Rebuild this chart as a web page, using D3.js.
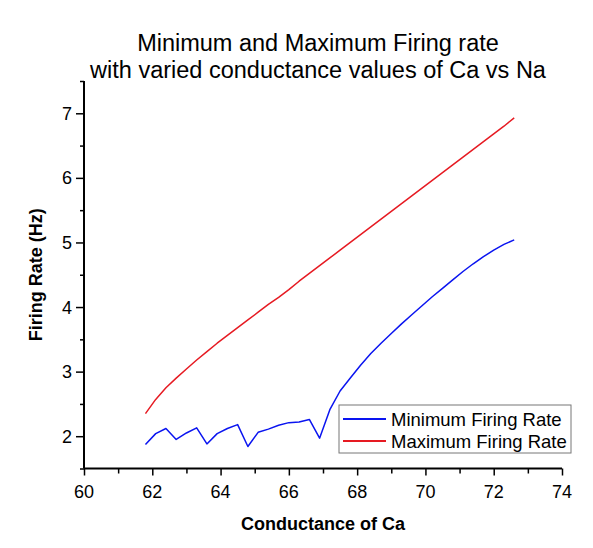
<!DOCTYPE html>
<html>
<head>
<meta charset="utf-8">
<script src="https://cdn.jsdelivr.net/npm/d3@7/dist/d3.min.js"></script>
<style>
  body { margin: 0; background: #fff; }
  svg { display: block; font-family: "Liberation Sans", Arial, sans-serif; }
</style>
</head>
<body>
<svg id="chart" width="593" height="548"></svg>
<script>
const conductance = [61.8, 62.1, 62.4, 62.7, 63.0, 63.3, 63.6, 63.9, 64.2, 64.5, 64.8, 65.1, 65.4, 65.7, 66.0, 66.3, 66.6, 66.9, 67.2, 67.5, 67.8, 68.1, 68.4, 68.7, 69.0, 69.3, 69.6, 69.9, 70.2, 70.5, 70.8, 71.1, 71.4, 71.7, 72.0, 72.3, 72.6];
const minRate = [1.87, 2.04, 2.12, 1.95, 2.05, 2.13, 1.88, 2.04, 2.12, 2.18, 1.84, 2.06, 2.11, 2.17, 2.21, 2.22, 2.26, 1.97, 2.41, 2.70, 2.90, 3.10, 3.28, 3.44, 3.59, 3.74, 3.88, 4.02, 4.16, 4.29, 4.42, 4.55, 4.67, 4.78, 4.88, 4.97, 5.04];
const maxRate = [2.35, 2.57, 2.75, 2.90, 3.04, 3.18, 3.31, 3.44, 3.56, 3.68, 3.80, 3.92, 4.04, 4.15, 4.27, 4.40, 4.52, 4.64, 4.76, 4.88, 5.00, 5.12, 5.24, 5.36, 5.48, 5.60, 5.72, 5.84, 5.96, 6.08, 6.20, 6.32, 6.44, 6.56, 6.68, 6.80, 6.93];
const xTicks = [60, 62, 64, 66, 68, 70, 72, 74];
const yTicks = [2, 3, 4, 5, 6, 7];
const titleLines = ["Minimum and Maximum Firing rate", "with varied conductance values of Ca vs Na"];
const seriesNames = ["Minimum Firing Rate", "Maximum Firing Rate"];
const seriesColors = ["#0a14f0", "#e61a22"];

const svg = d3.select("#chart");
const x = d3.scaleLinear().domain([60, 74]).range([84, 562]);
const y = d3.scaleLinear().domain([1.5, 7.5]).range([468.5, 81]);

// Title
svg.append("g").selectAll("text").data(titleLines).join("text")
  .attr("x", 318).attr("y", (d, i) => 51 + i * 27)
  .attr("text-anchor", "middle").attr("font-size", 23.5).attr("fill", "#000")
  .text(d => d);

// X axis
const xAxis = svg.append("g").attr("transform", `translate(0,${y(1.5)})`);
xAxis.call(d3.axisBottom(x).tickValues(d3.range(60, 74.01, 1)).tickSize(5).tickFormat(""))
  .call(g => g.select(".domain").attr("stroke-width", 2).attr("d", `M${x(60)},0H${x(74)}`))
  .call(g => g.selectAll(".tick line").attr("stroke-width", 1.5));
xAxis.selectAll(".tick line").filter(d => d % 2 === 0).attr("y2", 7);
xAxis.append("g").selectAll("text").data(xTicks).join("text")
  .attr("x", d => x(d)).attr("y", 29).attr("text-anchor", "middle")
  .attr("font-size", 18).attr("fill", "#000").text(d => d);

// Y axis
const yAxis = svg.append("g").attr("transform", `translate(${x(60)},0)`);
yAxis.call(d3.axisLeft(y).tickValues(d3.range(1.5, 7.51, 0.5)).tickSize(4).tickFormat(""))
  .call(g => g.select(".domain").attr("stroke-width", 2).attr("d", `M0,${y(1.5)}V${y(7.5)}`))
  .call(g => g.selectAll(".tick line").attr("stroke-width", 1.5));
yAxis.selectAll(".tick line").filter(d => Number.isInteger(d)).attr("x2", -8);
yAxis.append("g").selectAll("text").data(yTicks).join("text")
  .attr("x", -12).attr("y", d => y(d) + 6.5).attr("text-anchor", "end")
  .attr("font-size", 18).attr("fill", "#000").text(d => d);

// Axis labels
svg.append("text").attr("x", 323).attr("y", 529.5).attr("text-anchor", "middle")
  .attr("font-size", 18).attr("font-weight", "bold").text("Conductance of Ca");
svg.append("text").attr("transform", `translate(42,${(y(1.5) + y(7.5)) / 2}) rotate(-90)`)
  .attr("text-anchor", "middle").attr("font-size", 18).attr("font-weight", "bold")
  .text("Firing Rate (Hz)");

// Lines
const line = d3.line().x(d => x(d[0])).y(d => y(d[1]));
const series = [minRate, maxRate];
series.forEach((vals, i) => {
  svg.append("path")
    .datum(conductance.map((c, j) => [c, vals[j]]))
    .attr("d", line).attr("fill", "none")
    .attr("stroke", seriesColors[i]).attr("stroke-width", 1.5)
    .attr("stroke-linejoin", "round");
});

// Legend
const lg = svg.append("g").attr("transform", "translate(339,405)");
lg.append("rect").attr("width", 232).attr("height", 48)
  .attr("fill", "#fff").attr("stroke", "#777").attr("stroke-width", 1);
seriesNames.forEach((name, i) => {
  const yy = 14 + i * 22;
  lg.append("line").attr("x1", 4).attr("x2", 47).attr("y1", yy).attr("y2", yy)
    .attr("stroke", seriesColors[i]).attr("stroke-width", 2);
  lg.append("text").attr("x", 52).attr("y", yy + 6.5).attr("font-size", 18.5)
    .attr("fill", "#000").text(name);
});
</script>
</body>
</html>
